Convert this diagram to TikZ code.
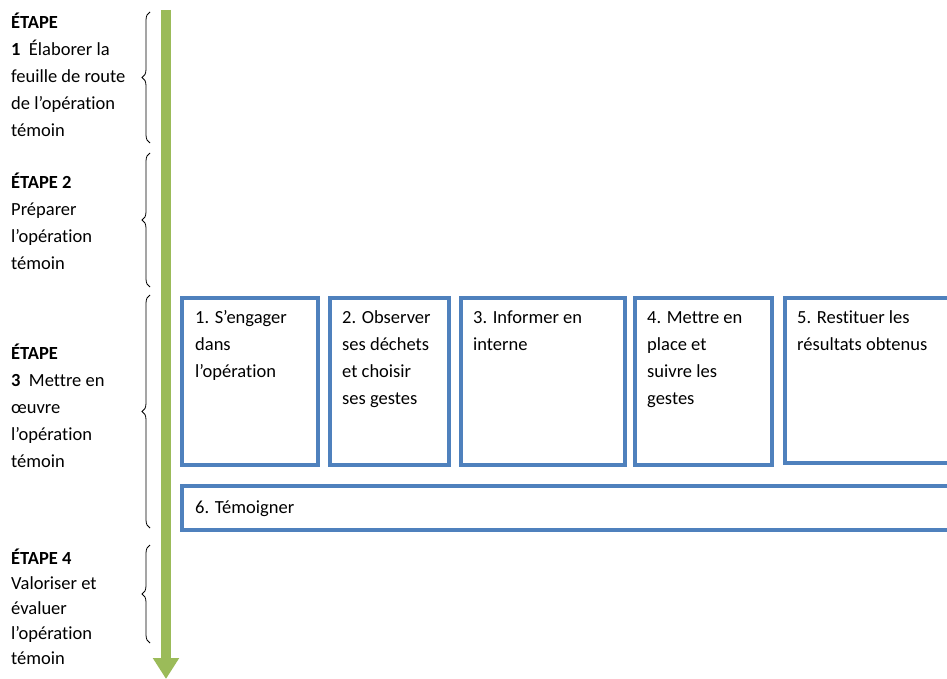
\documentclass[tikz,border=0pt]{standalone}
\usepackage{fontspec}
\setmainfont{Carlito}[Ligatures=NoCommon]
\usetikzlibrary{arrows.meta,decorations.pathreplacing}

\definecolor{boxblue}{HTML}{4F81BD}
\definecolor{timegreen}{HTML}{9BBB59}

\tikzset{
  steplabel/.style={anchor=base west, inner sep=0, align=left, font=\fontsize{18.5}{27}\selectfont},
  stepbox/.style={draw=boxblue, line width=4pt, anchor=north west, inner sep=0},
  boxtext/.style={anchor=base west, inner sep=0, align=left, font=\fontsize{18.5}{27}\selectfont},
  stepbrace/.style={decorate, decoration={brace, amplitude=8pt}, thick},
}

\begin{document}
\begin{tikzpicture}[x=1pt, y=-1pt]
\clip (0,0) rectangle (947,679);

\coordinate (top) at (166,10);
\coordinate (bottom) at (166,679);
\draw[timegreen, line width=10pt, -{Triangle[width=25pt, length=21pt]}] (top) -- (bottom);

\draw[stepbrace] (150,143) -- (150,12);
\draw[stepbrace] (150,287) -- (150,153);
\draw[stepbrace] (150,528) -- (150,295);
\draw[stepbrace] (150,643) -- (150,545);

% base anchor sits on the last line
\node[steplabel] (e1) at (11,137) {\textbf{ÉTAPE}\\\textbf{1}\ \ Élaborer la\\feuille de route\\de l’opération\\témoin};
\node[steplabel] (e2) at (11,269) {\textbf{ÉTAPE 2}\\Préparer\\l’opération\\témoin};
\node[steplabel] (e3) at (11,467) {\textbf{ÉTAPE}\\\textbf{3}\ \ Mettre en\\œuvre\\l’opération\\témoin};
\node[steplabel, font=\fontsize{18.5}{25}\selectfont] (e4) at (11,664) {\textbf{ÉTAPE 4}\\Valoriser et\\évaluer\\l’opération\\témoin};

\node[stepbox, minimum width=136pt, minimum height=167pt] (b1) at (180,296) {};
\node[stepbox, minimum width=119pt, minimum height=167pt] (b2) at (328,296) {};
\node[stepbox, minimum width=164pt, minimum height=167pt] (b3) at (459,296) {};
\node[stepbox, minimum width=137pt, minimum height=167pt] (b4) at (633,296) {};
\node[stepbox, minimum width=200pt, minimum height=165pt] (b5) at (783,296) {};
\node[stepbox, minimum width=800pt, minimum height=44pt] (b6) at (180,484) {};

\node[boxtext] (t1) at (195,377) {1. S’engager\\dans\\l’opération};
\node[boxtext] (t2) at (342,404) {2. Observer\\ses déchets\\et choisir\\ses gestes};
\node[boxtext] (t3) at (473,350) {3. Informer en\\interne};
\node[boxtext] (t4) at (647,404) {4. Mettre en\\place et\\suivre les\\gestes};
\node[boxtext] (t5) at (797,350) {5. Restituer les\\résultats obtenus};
\node[boxtext] (t6) at (195,513) {6. Témoigner};
\end{tikzpicture}
\end{document}
